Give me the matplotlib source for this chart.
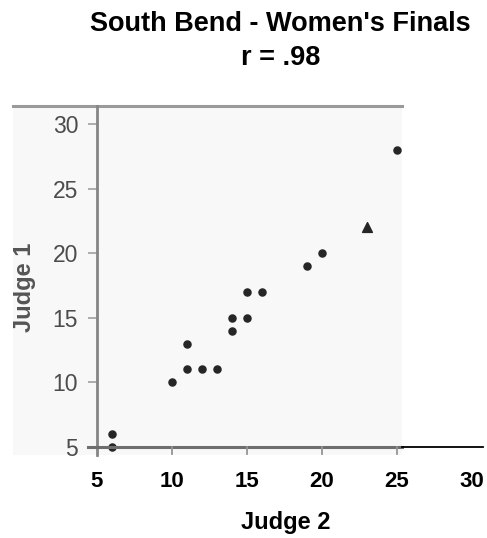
import matplotlib
matplotlib.use("Agg")
import matplotlib.pyplot as plt
from matplotlib.patches import Rectangle
from matplotlib.lines import Line2D

# Data (x = Judge 2, y = Judge 1)
judge2 = [6, 6, 10, 11, 11, 12, 13, 14, 14, 15, 15, 16, 19, 20, 25]
judge1 = [5, 6, 10, 13, 11, 11, 11, 15, 14, 15, 17, 17, 19, 20, 28]
tri_judge2 = [23]
tri_judge1 = [22]
xticks = [5, 10, 15, 20, 25, 30]
yticks = [5, 10, 15, 20, 25, 30]
title_lines = ["South Bend - Women's Finals", "r = .98"]

W, H = 487, 538
fig = plt.figure(figsize=(W / 100, H / 100), dpi=100)
fig.patch.set_facecolor("white")

def fx(px):
    return px / W

def fy(py):
    return (H - py) / H

# pasted-image background region
bg = Rectangle((fx(13), fy(455)), fx(402) - fx(13), fy(105) - fy(455),
               transform=fig.transFigure, facecolor="#f8f8f8", edgecolor="none", zorder=0)
fig.patches.append(bg)
fig.add_artist(Line2D([fx(13), fx(402)], [fy(106), fy(106)], transform=fig.transFigure,
                      color="#9a9a9a", lw=2.2, zorder=1))

ax_left, ax_right = 97, 483
ax_top, ax_bot = 106, 447
ax = fig.add_axes([fx(ax_left), fy(ax_bot), fx(ax_right) - fx(ax_left), fy(ax_top) - fy(ax_bot)])
ax.set_zorder(5)
ax.patch.set_alpha(0)
ppx = 15.0
ppy = 12.92
ax.set_xlim(5, 5 + (ax_right - ax_left) / ppx)
ax.set_ylim(5, 5 + (ax_bot - ax_top) / ppy)

for s in ["top", "right", "bottom"]:
    ax.spines[s].set_visible(False)
ax.spines["left"].set_color("#858585")
ax.spines["left"].set_linewidth(2)
ax.spines["left"].set_bounds(5 - 8 / ppy, 5 + (ax_bot - ax_top) / ppy)

# bottom axis line: gray within image, black beyond (figure-level lines)
fig.add_artist(Line2D([fx(88), fx(402)], [fy(447), fy(447)], transform=fig.transFigure,
                      color="#6e6e6e", lw=2.2, zorder=8))
fig.add_artist(Line2D([fx(402), fx(483)], [fy(446.5), fy(446.5)], transform=fig.transFigure,
                      color="black", lw=1.3, zorder=8))
# small gray x tick marks inside the image
for t in [10, 15, 20, 25]:
    px = ax_left + (t - 5) * ppx
    fig.add_artist(Line2D([fx(px), fx(px)], [fy(447), fy(454)], transform=fig.transFigure,
                          color="#959595", lw=1.3, zorder=8))

ax.set_yticks(yticks)
ax.set_yticklabels([str(t) for t in yticks], color="#4c4c4c", fontsize=16.5,
                   family="Liberation Sans")
ax.tick_params(axis="y", length=6.5, width=1.2, color="#a0a0a0", pad=7)

ax.set_xticks(xticks)
ax.set_xticklabels([str(t) for t in xticks], fontsize=16, fontweight="bold",
                   family="Liberation Sans")
ax.tick_params(axis="x", length=0, pad=17)

clip_rect = Rectangle((fx(13), fy(455)), fx(402) - fx(13), fy(105) - fy(455),
                      transform=fig.transFigure)

sc = ax.scatter(judge2, judge1, s=26, color="#262626", zorder=3, clip_on=True)
sc.set_clip_path(clip_rect)
ax.scatter(tri_judge2, tri_judge1, s=50, marker="^", color="#262626", zorder=3)

ax.set_xlabel("Judge 2", fontsize=17, fontweight="bold", family="Liberation Sans")
ax.xaxis.set_label_coords((286 - ax_left) / (ax_right - ax_left),
                          -(523 - ax_bot) / (ax_bot - ax_top))
ax.xaxis.label.set_va("center")

yl = fig.text(fx(25), fy(287), "Judge 1", rotation=90, ha="center", va="center",
              fontsize=17, fontweight="bold", color="#555555", family="Liberation Sans")
yl.set_clip_path(clip_rect)

fig.text(fx(280), fy(24), title_lines[0], ha="center", va="center",
         fontsize=19.5, fontweight="bold", family="Liberation Sans")
fig.text(fx(281), fy(58), title_lines[1], ha="center", va="center",
         fontsize=19.5, fontweight="bold", family="Liberation Sans")

fig.savefig("out.png", dpi=100)
